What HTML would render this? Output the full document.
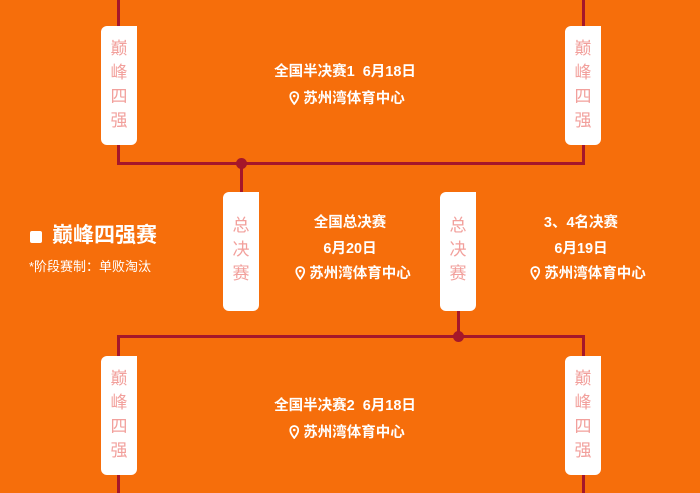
<!DOCTYPE html>
<html><head><meta charset="utf-8"><style>
html,body{margin:0;padding:0}
body{width:700px;height:493px;background:#F66E0B;position:relative;overflow:hidden;font-family:"Liberation Sans","Noto Sans CJK SC",sans-serif;}
.l{position:absolute;background:#A5172A}
.dot{position:absolute;width:11px;height:11px;border-radius:50%;background:#A5172A}
.tag{position:absolute;width:36px;height:119px;background:#fff;border-radius:6px 0 6px 6px;color:#F2A09C;font-size:17px;line-height:24px;text-align:center;box-sizing:border-box;}
.t{position:absolute;color:#fff;font-size:14.5px;font-weight:bold;text-align:center;white-space:nowrap;line-height:20px}
.pin{display:inline-block;vertical-align:-2px;margin-right:4px}
</style></head><body>
<div class="l" style="left:117px;top:0;width:3px;height:165px"></div>
<div class="l" style="left:582px;top:0;width:3px;height:165px"></div>
<div class="l" style="left:117px;top:162px;width:468px;height:3px"></div>
<div class="l" style="left:240px;top:163px;width:3px;height:30px"></div>
<div class="dot" style="left:236px;top:158px"></div>
<div class="l" style="left:457px;top:310px;width:3px;height:27px"></div>
<div class="l" style="left:117px;top:335px;width:468px;height:3px"></div>
<div class="l" style="left:117px;top:335px;width:3px;height:158px"></div>
<div class="l" style="left:582px;top:335px;width:3px;height:158px"></div>
<div class="dot" style="left:453px;top:331px"></div>
<div class="tag" style="left:101px;top:26px;padding-top:11px">巅<br>峰<br>四<br>强</div>
<div class="tag" style="left:565px;top:26px;padding-top:11px">巅<br>峰<br>四<br>强</div>
<div class="tag" style="left:101px;top:356px;padding-top:11px">巅<br>峰<br>四<br>强</div>
<div class="tag" style="left:565px;top:356px;padding-top:11px">巅<br>峰<br>四<br>强</div>
<div class="tag" style="left:223px;top:192px;padding-top:22px">总<br>决<br>赛</div>
<div class="tag" style="left:440px;top:192px;padding-top:22px">总<br>决<br>赛</div>
<div style="position:absolute;left:30px;top:231px;width:12px;height:12px;background:#fff;border-radius:2px"></div>
<div style="position:absolute;left:52px;top:222px;color:#fff;font-size:21px;font-weight:bold;line-height:28px">巅峰四强赛</div>
<div style="position:absolute;left:29px;top:258px;color:#fff;font-size:13px;line-height:18px">*阶段赛制：单败淘汰</div>
<svg width="0" height="0" style="position:absolute"><defs><symbol id="p" viewBox="0 0 10 14"><path d="M5 1a4 4 0 0 1 4 4c0 3-4 8-4 8S1 8 1 5a4 4 0 0 1 4-4z" fill="none" stroke="#fff" stroke-width="1.8"/><circle cx="5" cy="5" r="1.3" fill="#fff"/></symbol></defs></svg>
<div class="t" style="left:345px;top:62px;transform:translateX(-50%)">全国半决赛1&nbsp;&nbsp;6月18日</div>
<div class="t" style="left:347px;top:89px;transform:translateX(-50%)"><svg class="pin" width="10" height="14"><use href="#p"/></svg>苏州湾体育中心</div>
<div class="t" style="left:345px;top:396px;transform:translateX(-50%)">全国半决赛2&nbsp;&nbsp;6月18日</div>
<div class="t" style="left:347px;top:423px;transform:translateX(-50%)"><svg class="pin" width="10" height="14"><use href="#p"/></svg>苏州湾体育中心</div>
<div class="t" style="left:350px;top:213px;transform:translateX(-50%)">全国总决赛</div>
<div class="t" style="left:350px;top:239px;transform:translateX(-50%)">6月20日</div>
<div class="t" style="left:353px;top:264px;transform:translateX(-50%)"><svg class="pin" width="10" height="14"><use href="#p"/></svg>苏州湾体育中心</div>
<div class="t" style="left:581px;top:213px;transform:translateX(-50%)">3、4名决赛</div>
<div class="t" style="left:581px;top:239px;transform:translateX(-50%)">6月19日</div>
<div class="t" style="left:588px;top:264px;transform:translateX(-50%)"><svg class="pin" width="10" height="14"><use href="#p"/></svg>苏州湾体育中心</div>
</body></html>
